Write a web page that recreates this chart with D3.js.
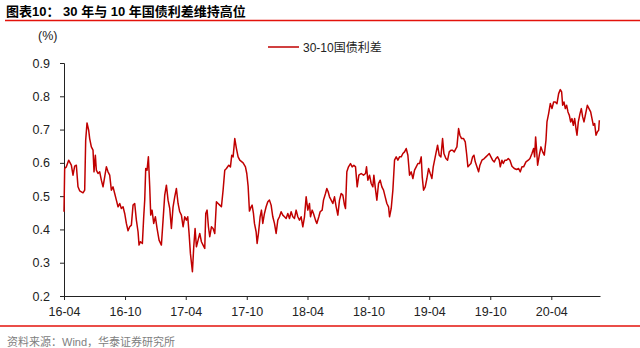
<html>
<head>
  <meta charset="utf-8">
  <script src="https://d3js.org/d3.v7.min.js"></script>
  <style>
  body { margin: 0; background: #fff; }
  .title { font: bold 13px "Liberation Sans", "Noto Sans CJK SC", sans-serif; fill: #000; }
  .tick text { font: 12.5px "Liberation Sans", Arial, sans-serif; fill: #222; }
  .legend { font: 12px "Liberation Sans", "Noto Sans CJK SC", sans-serif; fill: #222; }
  .source { font: 11px "Liberation Sans", "Noto Sans CJK SC", sans-serif; fill: #808080; }
  .spread { fill: none; stroke: #c00000; stroke-width: 1.5px; stroke-linejoin: round; }
  </style>
</head>
<body>
  <svg id="chart" width="640" height="348"></svg>
  <script>
// 30-10 spread (%)
const dates = [
  "2016-04-01","2016-04-03","2016-04-08","2016-04-15","2016-04-23","2016-04-28","2016-05-03","2016-05-08","2016-05-13","2016-05-18",
  "2016-05-28","2016-06-02","2016-06-05","2016-06-09","2016-06-14","2016-06-17","2016-06-22","2016-06-27","2016-06-30","2016-07-04",
  "2016-07-07","2016-07-12","2016-07-17","2016-07-22","2016-07-27","2016-08-01","2016-08-06","2016-08-11","2016-08-16","2016-08-21",
  "2016-08-26","2016-08-31","2016-09-05","2016-09-10","2016-09-15","2016-09-20","2016-09-25","2016-09-30","2016-10-05","2016-10-10",
  "2016-10-15","2016-10-20","2016-10-25","2016-10-30","2016-11-04","2016-11-09","2016-11-12","2016-11-16","2016-11-22","2016-11-26",
  "2016-11-29","2016-12-02","2016-12-06","2016-12-10","2016-12-14","2016-12-17","2016-12-21","2016-12-26","2016-12-31","2017-01-05",
  "2017-01-11","2017-01-18","2017-01-23","2017-01-28","2017-02-02","2017-02-07","2017-02-12","2017-02-17","2017-02-22","2017-02-27",
  "2017-03-04","2017-03-09","2017-03-14","2017-03-19","2017-03-24","2017-03-29","2017-04-03","2017-04-07","2017-04-11","2017-04-15",
  "2017-04-21","2017-04-25","2017-04-29","2017-05-03","2017-05-08","2017-05-13","2017-05-18","2017-05-23","2017-05-28","2017-05-31",
  "2017-06-04","2017-06-08","2017-06-12","2017-06-17","2017-06-22","2017-06-27","2017-07-02","2017-07-07","2017-07-12","2017-07-17",
  "2017-07-22","2017-07-27","2017-08-01","2017-08-08","2017-08-13","2017-08-17","2017-08-21","2017-08-26","2017-08-31","2017-09-05",
  "2017-09-10","2017-09-20","2017-09-27","2017-10-01","2017-10-05","2017-10-09","2017-10-14","2017-10-17","2017-10-21","2017-10-24",
  "2017-10-29","2017-11-01","2017-11-05","2017-11-10","2017-11-14","2017-11-18","2017-11-23","2017-11-28","2017-12-03","2017-12-08",
  "2017-12-13","2017-12-18","2017-12-23","2017-12-28","2018-01-02","2018-01-07","2018-01-12","2018-01-17","2018-01-22","2018-01-27",
  "2018-02-01","2018-02-06","2018-02-11","2018-02-16","2018-02-21","2018-02-26","2018-03-03","2018-03-08","2018-03-13","2018-03-18",
  "2018-03-23","2018-03-28","2018-04-02","2018-04-07","2018-04-10","2018-04-15","2018-04-19","2018-04-25","2018-04-29","2018-05-05",
  "2018-05-09","2018-05-15","2018-05-19","2018-05-25","2018-05-29","2018-06-02","2018-06-06","2018-06-11","2018-06-16","2018-06-21",
  "2018-06-26","2018-07-01","2018-07-06","2018-07-11","2018-07-16","2018-07-21","2018-07-24","2018-07-28","2018-08-02","2018-08-08",
  "2018-08-13","2018-08-18","2018-08-23","2018-08-28","2018-09-02","2018-09-09","2018-09-16","2018-09-22","2018-09-25","2018-09-29",
  "2018-10-04","2018-10-09","2018-10-14","2018-10-17","2018-10-21","2018-10-26","2018-10-31","2018-11-05","2018-11-10","2018-11-15",
  "2018-11-20","2018-11-25","2018-11-30","2018-12-03","2018-12-08","2018-12-13","2018-12-18","2018-12-23","2018-12-28","2019-01-02",
  "2019-01-07","2019-01-12","2019-01-17","2019-01-22","2019-01-27","2019-02-01","2019-02-06","2019-02-11","2019-02-16","2019-02-21",
  "2019-02-26","2019-03-03","2019-03-08","2019-03-11","2019-03-15","2019-03-20","2019-03-25","2019-03-30","2019-04-04","2019-04-06",
  "2019-04-09","2019-04-13","2019-04-19","2019-04-26","2019-05-01","2019-05-06","2019-05-11","2019-05-15","2019-05-21","2019-05-26",
  "2019-05-31","2019-06-05","2019-06-10","2019-06-15","2019-06-20","2019-06-23","2019-06-28","2019-07-02","2019-07-07","2019-07-13",
  "2019-07-18","2019-07-22","2019-07-26","2019-07-30","2019-08-04","2019-08-09","2019-08-13","2019-08-17","2019-08-22","2019-08-27",
  "2019-08-31","2019-09-06","2019-09-13","2019-09-18","2019-09-23","2019-09-28","2019-10-03","2019-10-08","2019-10-13","2019-10-18",
  "2019-10-23","2019-10-28","2019-10-31","2019-11-05","2019-11-09","2019-11-14","2019-11-19","2019-11-24","2019-11-29","2019-12-05",
  "2019-12-12","2019-12-19","2019-12-25","2019-12-30","2020-01-04","2020-01-09","2020-01-16","2020-01-23","2020-01-28","2020-02-03",
  "2020-02-08","2020-02-11","2020-02-14","2020-02-17","2020-02-20","2020-02-25","2020-03-01","2020-03-06","2020-03-11","2020-03-16",
  "2020-03-19","2020-03-24","2020-03-29","2020-04-03","2020-04-08","2020-04-13","2020-04-18","2020-04-23","2020-04-28","2020-05-02",
  "2020-05-05","2020-05-09","2020-05-13","2020-05-17","2020-05-21","2020-05-25","2020-05-29","2020-06-02","2020-06-06","2020-06-10",
  "2020-06-14","2020-06-17","2020-06-21","2020-06-26","2020-06-30","2020-07-04","2020-07-08","2020-07-12","2020-07-18","2020-07-23",
  "2020-07-28","2020-08-01","2020-08-05","2020-08-09","2020-08-13","2020-08-17","2020-08-21","2020-08-23"
];
const spread = [
  0.453,0.583,0.588,0.608,0.593,0.563,0.590,0.593,0.528,0.516,
  0.510,0.518,0.668,0.720,0.698,0.673,0.648,0.638,0.573,0.623,
  0.578,0.568,0.573,0.548,0.528,0.558,0.588,0.573,0.563,0.518,
  0.528,0.508,0.488,0.468,0.478,0.463,0.468,0.448,0.418,0.396,
  0.408,0.413,0.473,0.478,0.428,0.393,0.353,0.363,0.358,0.438,
  0.488,0.583,0.578,0.618,0.528,0.443,0.458,0.418,0.438,0.403,
  0.368,0.353,0.428,0.503,0.533,0.488,0.463,0.403,0.468,0.498,
  0.523,0.478,0.453,0.443,0.408,0.438,0.428,0.438,0.388,0.328,
  0.273,0.348,0.403,0.348,0.368,0.388,0.363,0.353,0.343,0.448,
  0.458,0.408,0.378,0.408,0.403,0.388,0.483,0.478,0.473,0.468,
  0.518,0.578,0.583,0.593,0.588,0.623,0.618,0.673,0.643,0.618,
  0.608,0.600,0.588,0.568,0.530,0.455,0.468,0.473,0.448,0.418,
  0.393,0.358,0.388,0.438,0.458,0.418,0.448,0.468,0.483,0.488,
  0.473,0.438,0.418,0.388,0.428,0.438,0.453,0.443,0.438,0.433,
  0.448,0.433,0.453,0.438,0.433,0.458,0.438,0.428,0.438,0.408,
  0.438,0.498,0.458,0.478,0.438,0.458,0.448,0.428,0.418,0.438,
  0.453,0.458,0.488,0.508,0.523,0.513,0.498,0.488,0.478,0.498,
  0.468,0.443,0.488,0.508,0.503,0.473,0.463,0.573,0.588,0.598,
  0.588,0.593,0.588,0.528,0.563,0.568,0.563,0.568,0.588,0.548,
  0.563,0.538,0.528,0.563,0.528,0.488,0.538,0.548,0.528,0.518,
  0.498,0.478,0.468,0.438,0.463,0.518,0.608,0.618,0.608,0.618,
  0.618,0.628,0.633,0.643,0.623,0.563,0.573,0.553,0.578,0.588,
  0.598,0.598,0.618,0.558,0.518,0.528,0.553,0.583,0.568,0.563,
  0.553,0.588,0.618,0.653,0.623,0.618,0.673,0.628,0.613,0.608,
  0.633,0.638,0.638,0.633,0.643,0.648,0.703,0.683,0.673,0.673,
  0.663,0.628,0.588,0.593,0.598,0.618,0.623,0.603,0.588,0.573,
  0.593,0.608,0.613,0.618,0.623,0.628,0.618,0.608,0.603,0.613,
  0.618,0.608,0.588,0.608,0.598,0.608,0.608,0.613,0.608,0.590,
  0.583,0.580,0.583,0.573,0.588,0.588,0.603,0.608,0.613,0.628,
  0.643,0.618,0.678,0.638,0.593,0.623,0.648,0.633,0.623,0.668,
  0.723,0.748,0.778,0.763,0.783,0.783,0.778,0.808,0.820,0.813,
  0.773,0.783,0.763,0.773,0.753,0.743,0.723,0.733,0.713,0.733,
  0.703,0.683,0.723,0.748,0.763,0.738,0.723,0.743,0.773,0.763,
  0.753,0.733,0.713,0.718,0.683,0.693,0.698,0.728
];
const tickDates = ["2016-04-01","2016-10-01","2017-04-01","2017-10-01","2018-04-01","2018-10-01","2019-04-01","2019-10-01","2020-04-01"];
const yTicks = [0.2,0.3,0.4,0.5,0.6,0.7,0.8,0.9];
const seriesName = "30-10国债利差";

const parse = d3.timeParse("%Y-%m-%d");
const data = dates.map((d, i) => ({date: parse(d), value: spread[i]}));

const svg = d3.select("#chart");

// title + red rules
svg.append("text").attr("class","title").attr("x",6).attr("y",16)
  .text("图表10：  30 年与 10 年国债利差维持高位");
svg.append("line").attr("x1",5).attr("x2",640).attr("y1",20.5).attr("y2",20.5)
  .attr("stroke","#e3120b").attr("stroke-width",1.5);
svg.append("line").attr("x1",0).attr("x2",640).attr("y1",326).attr("y2",326)
  .attr("stroke","#e3120b").attr("stroke-width",1.5);
svg.append("text").attr("class","source").attr("x",7).attr("y",346)
  .text("资料来源：Wind，华泰证券研究所");

const x = d3.scaleTime()
  .domain([parse("2016-04-01"), parse("2020-08-25")])
  .range([64, 600]);
const y = d3.scaleLinear().domain([0.2, 0.9]).range([296, 63]);

const yAxis = d3.axisLeft(y).tickValues(yTicks).tickSize(4).tickPadding(10)
  .tickFormat(d3.format(".1f"));
svg.append("g").attr("transform","translate(64,0)").call(yAxis)
  .call(g => g.selectAll("line,path").attr("stroke","#222"));

const xAxis = d3.axisBottom(x).tickValues(tickDates.map(parse)).tickSize(4).tickPadding(7)
  .tickSizeOuter(0).tickFormat(d3.timeFormat("%y-%m"));
svg.append("g").attr("transform","translate(0,296)").call(xAxis)
  .call(g => g.selectAll("line,path").attr("stroke","#222"));

svg.append("text").attr("x",38).attr("y",40)
  .style("font","12.5px 'Liberation Sans', Arial, sans-serif").attr("fill","#222").text("(%)");

const line = d3.line().x(d => x(d.date)).y(d => y(d.value));
svg.append("path").datum(data).attr("class","spread").attr("d", line);

// legend
svg.append("line").attr("x1",268).attr("x2",299).attr("y1",47).attr("y2",47)
  .attr("stroke","#c00000").attr("stroke-width",1.5);
svg.append("text").attr("class","legend").attr("x",303).attr("y",51.5).text(seriesName);
  </script>
</body>
</html>
